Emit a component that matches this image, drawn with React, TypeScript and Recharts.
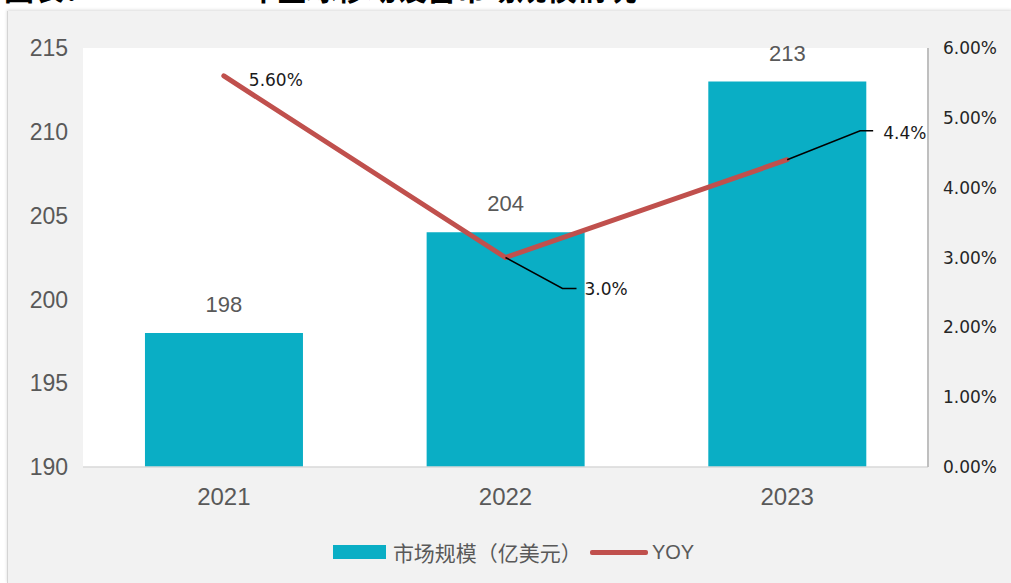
import React from 'react';
import { ComposedChart, Bar, Line, XAxis, YAxis, CartesianGrid, LabelList, Legend } from 'recharts';

const years = ['2021', '2022', '2023'];
const marketSize = [198, 204, 213];
const yoy = [0.056, 0.03, 0.044];
const yoyLabels = ['5.60%', '3.0%', '4.4%'];
const leftTicks = [190, 195, 200, 205, 210, 215];
const rightTicks = [0, 0.01, 0.02, 0.03, 0.04, 0.05, 0.06];
const titleText = '图表：2021-2023年全球移动设备市场规模情况';

const data = years.map((y, i) => ({ year: y, size: marketSize[i], yoy: yoy[i], yoyLabel: yoyLabels[i] }));

// label placement styles (offsets from the line point)
const labelStyles = [
  { leader: null as null | number[], tx: 25, ty: 10 },
  { leader: [57, 31, 71], tx: 79, ty: 37 },
  { leader: [73, -29, 86], tx: 96, ty: -21 },
];

const BAR = '#0aaec5';
const LINE = '#c0504d';
const NUM_FONT = '"DejaVu Sans", sans-serif';

const YoyLabel = (props: any) => {
  const { x, y, value } = props;
  const i = yoyLabels.indexOf(value);
  const s = labelStyles[i] || labelStyles[0];
  return (
    <g>
      {s.leader && (
        <polyline
          points={`${x},${y} ${x + s.leader[0]},${y + s.leader[1]} ${x + s.leader[2]},${y + s.leader[1]}`}
          fill="none"
          stroke="#000"
          strokeWidth={1.5}
        />
      )}
      <text x={x + s.tx} y={y + s.ty} fontSize={17} fontFamily={NUM_FONT} fill="#1a1a1a">
        {value}
      </text>
    </g>
  );
};

const renderLegend = () => (
  <div style={{ display: 'flex', alignItems: 'center', justifyContent: 'center', paddingLeft: 16, color: '#595959' }}>
    <span style={{ display: 'inline-block', width: 53, height: 14, background: BAR, marginRight: 7 }} />
    <span style={{ fontSize: 21, fontFamily: '"Noto Sans CJK SC", sans-serif', marginRight: 8 }}>市场规模（亿美元）</span>
    <span style={{ display: 'inline-block', width: 58, height: 5, background: LINE, borderRadius: 2, marginRight: 4 }} />
    <span style={{ fontSize: 20, fontFamily: '"Liberation Sans", Arial, sans-serif' }}>YOY</span>
  </div>
);

export default function App() {
  return (
    <div style={{ position: 'fixed', left: 0, top: 0, width: 1011, height: 583, background: '#fff', overflow: 'hidden' }}>
      <div style={{ position: 'absolute', left: 4, top: 0, height: 9, width: 1000, overflow: 'hidden' }}>
        <div
          style={{
            position: 'absolute',
            top: -33,
            left: 0,
            fontSize: 30,
            fontWeight: 'bold',
            fontFamily: '"Noto Sans CJK SC", sans-serif',
            color: '#000',
            whiteSpace: 'nowrap',
            lineHeight: '40px',
          }}
        >
          {titleText}
        </div>
      </div>
      <div
        style={{
          position: 'absolute',
          left: 7,
          top: 11,
          width: 1004,
          height: 572,
          background: '#f2f2f2',
          borderLeft: '1px solid #d4d4d4',
          boxShadow: '0 -1px 3px rgba(0,0,0,0.15)',
        }}
      />
      <div style={{ position: 'absolute', left: 0, top: 0 }}>
        <ComposedChart
          width={1011}
          height={583}
          data={data}
          margin={{ top: 48, right: 3, bottom: 86, left: 3 }}
          barCategoryGap="22%"
        >
          <CartesianGrid horizontal={false} vertical={false} fill="#ffffff" />
          <XAxis
            dataKey="year"
            tickLine={false}
            axisLine={{ stroke: '#d9d9d9', strokeWidth: 1.5 }}
            tickSize={0}
            tickMargin={21}
            height={30}
            tick={{ fontSize: 24, fill: '#595959', fontFamily: '"Liberation Sans", Arial, sans-serif' }}
          />
          <YAxis
            yAxisId="left"
            orientation="left"
            width={80}
            domain={[190, 215]}
            ticks={leftTicks}
            interval={0}
            tickLine={false}
            axisLine={false}
            tickSize={0}
            tickMargin={15}
            tick={{ fontSize: 23, fill: '#595959', fontFamily: '"Liberation Sans", Arial, sans-serif' }}
          />
          <YAxis
            yAxisId="right"
            orientation="right"
            width={80}
            domain={[0, 0.06]}
            ticks={rightTicks}
            interval={0}
            tickLine={false}
            axisLine={{ stroke: '#bfbfbf', strokeWidth: 2 }}
            tickSize={0}
            tickMargin={15}
            tickFormatter={(v: number) => `${(v * 100).toFixed(2)}%`}
            tick={{ fontSize: 17, fill: '#262626', fontFamily: NUM_FONT }}
          />
          <Legend
            layout="horizontal"
            verticalAlign="middle"
            align="center"
            content={renderLegend}
            wrapperStyle={{ top: 537, left: 0, width: 1011 }}
          />
          <Bar yAxisId="left" dataKey="size" fill={BAR} isAnimationActive={false}>
            <LabelList
              dataKey="size"
              position="top"
              offset={21}
              style={{ fontSize: 22, fill: '#595959', fontFamily: '"Liberation Sans", Arial, sans-serif' }}
            />
          </Bar>
          <Line
            yAxisId="right"
            dataKey="yoy"
            stroke={LINE}
            strokeWidth={5}
            strokeLinecap="round"
            dot={false}
            activeDot={false}
            isAnimationActive={false}
          >
            <LabelList dataKey="yoyLabel" content={<YoyLabel />} />
          </Line>
        </ComposedChart>
      </div>
    </div>
  );
}
